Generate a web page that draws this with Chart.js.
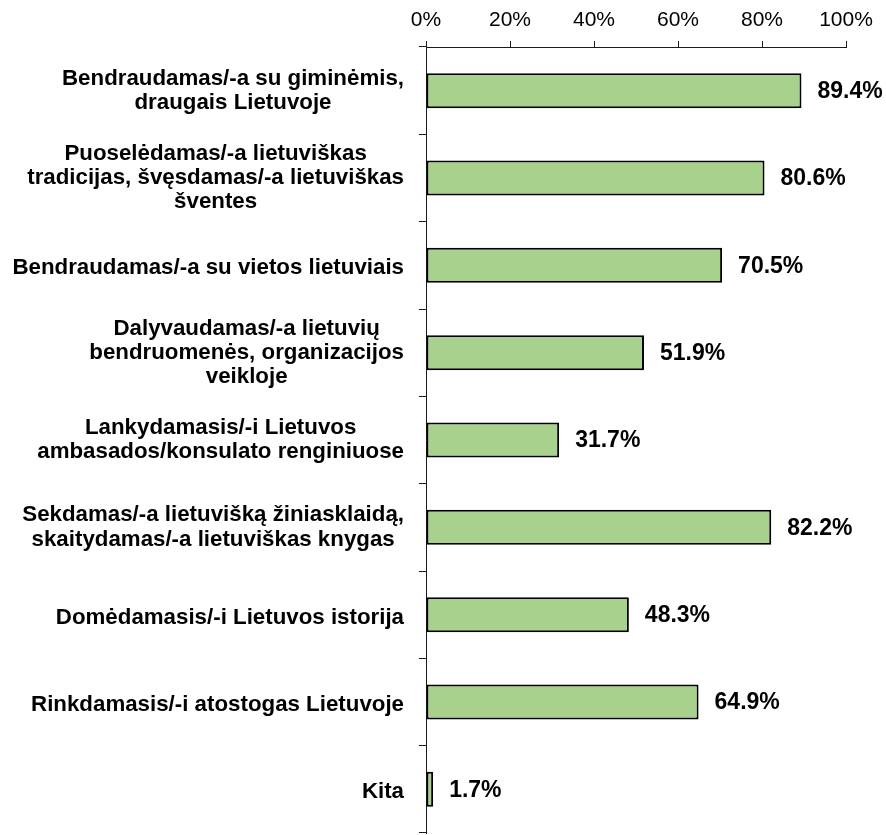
<!DOCTYPE html>
<html>
<head>
<meta charset="utf-8">
<script src="https://cdn.jsdelivr.net/npm/chart.js@4"></script>
<style>
  html, body { margin: 0; padding: 0; background: #fff; }
  #wrap { width: 886px; height: 835px; position: relative; }
</style>
</head>
<body>
<div id="wrap"><canvas id="chart"></canvas></div>
<script>
// categories (line breaks as in the original)
const categories = [
  ['Bendraudamas/-a su giminėmis,', 'draugais Lietuvoje'],
  ['Puoselėdamas/-a lietuviškas', 'tradicijas, švęsdamas/-a lietuviškas', 'šventes'],
  ['Bendraudamas/-a su vietos lietuviais'],
  ['Dalyvaudamas/-a lietuvių', 'bendruomenės, organizacijos', 'veikloje'],
  ['Lankydamasis/-i Lietuvos', 'ambasados/konsulato renginiuose'],
  ['Sekdamas/-a lietuvišką žiniasklaidą,', 'skaitydamas/-a lietuviškas knygas'],
  ['Domėdamasis/-i Lietuvos istorija'],
  ['Rinkdamasis/-i atostogas Lietuvoje'],
  ['Kita']
];
const values = [89.4, 80.6, 70.5, 51.9, 31.7, 82.2, 48.3, 64.9, 1.7];
const xTicks = [0, 20, 40, 60, 80, 100];

const FONT = '"Liberation Sans", Arial, sans-serif';
const AXIS = '#1a1a1a';

// category labels: block right-aligned to the axis, lines centred inside the block
const catLabels = {
  id: 'catLabels',
  afterDraw(chart) {
    const ctx = chart.ctx, y = chart.scales.y;
    const right = y.right - 22, lh = 24.3;
    ctx.save();
    ctx.font = 'bold 22.3px ' + FONT;
    ctx.fillStyle = '#000';
    ctx.textAlign = 'center';
    ctx.textBaseline = 'middle';
    categories.forEach((lines, i) => {
      const w = Math.max(...lines.map(l => ctx.measureText(l).width));
      const cx = right - w / 2;
      // single-line labels sit a little below the bar centre in the original
      const cy = y.getPixelForValue(i) + (lines.length === 1 ? 3 : 0);
      const top = cy - (lines.length - 1) * lh / 2;
      lines.forEach((l, k) => ctx.fillText(l, cx, top + k * lh));
    });
    ctx.restore();
  }
};

// value labels to the right of each bar
const valueLabels = {
  id: 'valueLabels',
  afterDatasetsDraw(chart) {
    const ctx = chart.ctx;
    const meta = chart.getDatasetMeta(0);
    ctx.save();
    ctx.font = 'bold 23px ' + FONT;
    ctx.fillStyle = '#000';
    ctx.textAlign = 'left';
    ctx.textBaseline = 'middle';
    meta.data.forEach((bar, i) => {
      ctx.fillText(values[i].toFixed(1) + '%', bar.x + 16, bar.y + 1);
    });
    ctx.restore();
  }
};

new Chart(document.getElementById('chart'), {
  type: 'bar',
  data: {
    labels: categories.map(c => c.join(' ')),
    datasets: [{
      data: values,
      backgroundColor: '#A9D18E',
      borderColor: '#000',
      borderWidth: 2,
      borderSkipped: false,
      categoryPercentage: 1,
      barPercentage: 0.4
    }]
  },
  options: {
    indexAxis: 'y',
    responsive: true,
    maintainAspectRatio: false,
    animation: false,
    layout: { padding: { left: 0, right: 40, top: 0, bottom: 2 } },
    plugins: { legend: { display: false }, tooltip: { enabled: false } },
    scales: {
      x: {
        position: 'top',
        min: 0, max: 100,
        afterBuildTicks: s => { s.ticks = xTicks.map(v => ({ value: v })); },
        afterFit: s => { s.height = 47; },
        ticks: {
          callback: v => v + '%',
          color: '#000',
          font: { family: FONT, size: 21 },
          padding: 8,
          maxRotation: 0
        },
        grid: { drawOnChartArea: false, tickLength: 6, color: AXIS, lineWidth: 1 },
        border: { display: true, color: AXIS, width: 1 }
      },
      y: {
        offset: true,
        afterFit: s => { s.width = 426; },
        ticks: { display: false },
        grid: { offset: true, drawOnChartArea: false, tickLength: 7, color: AXIS, lineWidth: 1 },
        border: { display: true, color: AXIS, width: 1 }
      }
    }
  },
  plugins: [catLabels, valueLabels]
});
</script>
</body>
</html>
